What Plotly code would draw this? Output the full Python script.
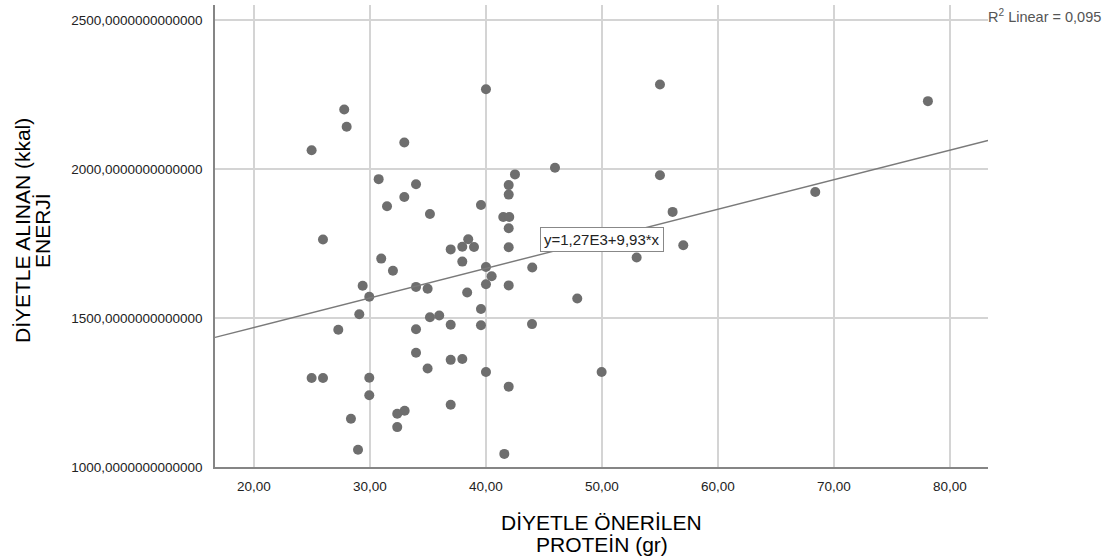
import numpy as np
import plotly.graph_objects as go

# ---- data ----
protein = [27.78, 27.99, 24.97, 32.96, 30.75, 33.97, 32.96, 31.47, 35.17, 25.95,
           36.96, 37.96, 38.47, 38.97, 37.96, 30.97, 31.98, 29.37, 29.94, 33.97,
           34.97, 38.38, 29.08, 27.27, 35.17, 35.97, 36.96, 33.97, 33.97, 36.96,
           37.96, 34.97, 24.97, 25.95, 29.94, 29.94, 36.96, 28.36, 32.35, 32.99,
           32.35, 28.97, 40.00, 55.00, 45.95, 42.50, 55.00, 41.96, 41.96, 39.57,
           56.09, 41.49, 42.01, 41.96, 41.96, 57.01, 52.99, 40.00, 40.49, 43.99,
           40.00, 41.96, 47.87, 39.57, 39.57, 43.97, 40.00, 49.97, 41.96, 41.58,
           78.10, 68.39]
energy = [2201, 2143, 2064, 2090, 1967, 1950, 1907, 1876, 1850, 1764,
          1731, 1740, 1765, 1739, 1690, 1700, 1659, 1609, 1572, 1605,
          1599, 1586, 1513, 1461, 1503, 1509, 1478, 1463, 1384, 1360,
          1363, 1331, 1299, 1299, 1300, 1241, 1209, 1162, 1179, 1189,
          1134, 1058, 2269, 2285, 2005, 1983, 1980, 1947, 1915, 1880,
          1857, 1840, 1840, 1802, 1738, 1745, 1704, 1672, 1641, 1670,
          1614, 1610, 1566, 1531, 1476, 1480, 1319, 1319, 1270, 1044,
          2229, 1924]

x_tick_vals = [20, 30, 40, 50, 60, 70, 80]
x_tick_text = ["20,00", "30,00", "40,00", "50,00", "60,00", "70,00", "80,00"]
y_tick_vals = [1000, 1500, 2000, 2500]
y_tick_text = ["1000,0000000000000", "1500,0000000000000",
               "2000,0000000000000", "2500,0000000000000"]

fit_intercept = 1270.0
fit_slope = 9.93
fit_label = "y=1,27E3+9,93*x"
r2_label = "R<sup>2</sup> Linear = 0,095"

x_title_lines = ["DİYETLE ÖNERİLEN", "PROTEİN (gr)"]
y_title_lines = ["DİYETLE ALINAN (kkal)", "ENERJİ"]

X_RANGE = [16.64, 83.28]
Y_RANGE = [1000, 2552]

FONT = "Arial, 'Liberation Sans', sans-serif"

fig = go.Figure()
fig.add_trace(go.Scatter(
    x=protein, y=energy, mode="markers",
    marker=dict(size=10, color="#6e6e6e", line=dict(width=0)),
    hoverinfo="x+y"))

line_x = np.array(X_RANGE)
fig.add_trace(go.Scatter(
    x=line_x, y=fit_intercept + fit_slope * line_x, mode="lines",
    line=dict(color="#7a7a7a", width=1.4), hoverinfo="skip"))

axis_common = dict(
    showgrid=True, gridcolor="#d4d4d4", gridwidth=1.5,
    showline=True, linecolor="#858585", linewidth=1.5,
    zeroline=False, ticks="", tickfont=dict(family=FONT, size=13.5, color="#222222"),
)

fig.update_layout(
    width=1113, height=559,
    margin=dict(l=215, r=125, t=5, b=92),
    paper_bgcolor="white", plot_bgcolor="white",
    showlegend=False,
    font=dict(family=FONT),
    xaxis=dict(range=X_RANGE, tickmode="array", tickvals=x_tick_vals,
               ticktext=x_tick_text, ticklabelstandoff=6, **axis_common),
    yaxis=dict(range=Y_RANGE, tickmode="array", tickvals=y_tick_vals,
               ticktext=y_tick_text, ticklabelstandoff=8, **axis_common),
)

title_font = dict(family=FONT, size=21, color="#000000")
for i, line in enumerate(x_title_lines):
    fig.add_annotation(text=line, xref="paper", yref="paper", x=0.5, y=0,
                       xanchor="center", yanchor="middle", yshift=-55 - 22 * i,
                       showarrow=False, font=title_font)
for i, line in enumerate(y_title_lines):
    fig.add_annotation(text=line, xref="paper", yref="paper", x=0, y=0.5,
                       xanchor="center", yanchor="middle", xshift=-193 + 20 * i,
                       yshift=5, textangle=-90, showarrow=False, font=title_font)

fig.add_annotation(text=fit_label, xref="x", yref="y", x=50.0, y=1765,
                   showarrow=False, bgcolor="white", bordercolor="#888888",
                   borderwidth=1, borderpad=3,
                   font=dict(family=FONT, size=15, color="#222222"))
fig.add_annotation(text=r2_label, xref="paper", yref="y", x=1, y=2500,
                   xanchor="left", yanchor="middle", xshift=-2, yshift=4,
                   showarrow=False, font=dict(family=FONT, size=14.5, color="#555555"))

fig.write_html("out.html")
